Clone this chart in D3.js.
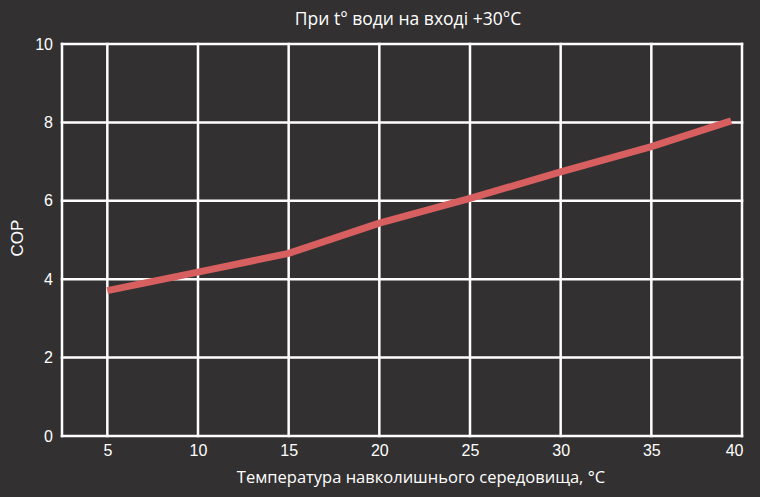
<!DOCTYPE html>
<html>
<head>
<meta charset="utf-8">
<script src="https://cdn.jsdelivr.net/npm/d3@7"></script>
<style>
  html, body { margin: 0; padding: 0; background: #323031; }
  svg { display: block; }
</style>
</head>
<body>
<svg id="chart"></svg>
<script>
// values
var temps = [5, 10, 15, 20, 25, 30, 35, 39.4];
var cop = [3.71, 4.18, 4.66, 5.43, 6.06, 6.74, 7.38, 8.04];
var xTicks = [5, 10, 15, 20, 25, 30, 35, 40];
var yTicks = [0, 2, 4, 6, 8, 10];
var title = "При t° води на вході +30°C";
var xTitle = "Температура навколишнього середовища, °C";
var yTitle = "COP";

var w = 760,
    h = 497,
    plotLeft = 62,
    plotRight = 742,
    plotTop = 44,
    plotBottom = 436;

var svg = d3.select("#chart")
    .attr("width", w)
    .attr("height", h);

svg.append("rect")
    .attr("width", w)
    .attr("height", h)
    .style("fill", "#323031");

var x = d3.scaleLinear().domain([2.5, 40]).range([plotLeft, plotRight]);
var y = d3.scaleLinear().domain([0, 10]).range([plotBottom, plotTop]);

// grid lines
var grid = svg.append("g").attr("class", "grid");

grid.selectAll(".hline")
    .data(yTicks)
    .enter().append("line")
      .attr("class", "hline")
      .attr("x1", plotLeft)
      .attr("x2", plotRight)
      .attr("y1", function(d) { return y(d); })
      .attr("y2", function(d) { return y(d); });

grid.selectAll(".vline")
    .data(xTicks)
    .enter().append("line")
      .attr("class", "vline")
      .attr("x1", function(d) { return x(d); })
      .attr("x2", function(d) { return x(d); })
      .attr("y1", plotTop)
      .attr("y2", plotBottom);

grid.append("line")
    .attr("x1", plotLeft).attr("x2", plotLeft)
    .attr("y1", plotTop).attr("y2", plotBottom);

grid.selectAll("line")
    .style("stroke", "#ffffff")
    .style("stroke-width", 2.5)
    .style("stroke-linecap", "square");

// axes (labels only, grid is drawn above)
var xAxis = svg.append("g")
    .attr("transform", "translate(0," + plotBottom + ")")
    .call(d3.axisBottom(x).tickValues(xTicks).tickSize(0).tickPadding(9));

var yAxis = svg.append("g")
    .attr("transform", "translate(" + plotLeft + ",0)")
    .call(d3.axisLeft(y).tickValues(yTicks).tickSize(0).tickPadding(9));

[xAxis, yAxis].forEach(function(a) {
  a.select(".domain").remove();
  a.selectAll("text")
    .style("fill", "#ffffff")
    .style("font-family", "'Liberation Sans', Arial, sans-serif")
    .style("font-size", "16px");
});

// last x label sits inside the right edge
xAxis.selectAll("text")
    .filter(function(d) { return d == 40; })
    .attr("text-anchor", "end")
    .attr("x", 1);

// the curve
var line = d3.line()
    .x(function(d, i) { return x(temps[i]); })
    .y(function(d) { return y(d); });

svg.append("path")
    .datum(cop)
    .attr("d", line)
    .style("fill", "none")
    .style("stroke", "#d75f5f")
    .style("stroke-width", 7)
    .style("stroke-linejoin", "round");

// titles
svg.append("text")
    .attr("x", 408)
    .attr("y", 25)
    .attr("text-anchor", "middle")
    .style("fill", "#ffffff")
    .style("font-family", "'Open Sans', sans-serif")
    .style("font-size", "17.5px")
    .text(title);

svg.append("text")
    .attr("x", 421)
    .attr("y", 483)
    .attr("text-anchor", "middle")
    .style("fill", "#ffffff")
    .style("font-family", "'Open Sans', sans-serif")
    .style("font-size", "16.5px")
    .text(xTitle);

svg.append("text")
    .attr("transform", "translate(23,238) rotate(-90)")
    .attr("text-anchor", "middle")
    .style("fill", "#ffffff")
    .style("font-family", "'Liberation Sans', Arial, sans-serif")
    .style("font-size", "17px")
    .text(yTitle);
</script>
</body>
</html>
